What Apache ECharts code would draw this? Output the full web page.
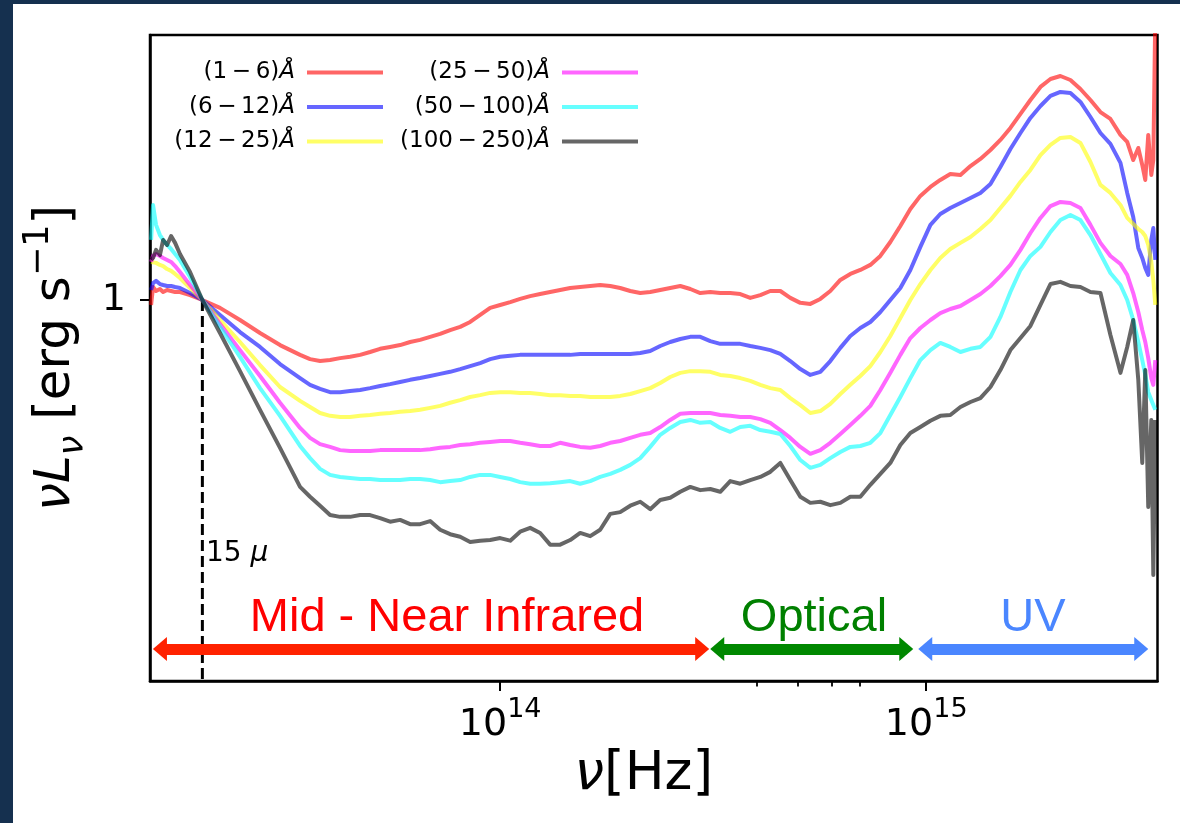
<!DOCTYPE html>
<html><head><meta charset="utf-8">
<script src="https://cdn.jsdelivr.net/npm/echarts@6.0.0/dist/echarts.min.js"></script>
<style>
html,body{margin:0;padding:0;background:#15304f;width:1180px;height:823px;overflow:hidden;}
#chart{position:absolute;left:13px;top:4px;width:1167px;height:819px;background:#fff;}
</style></head><body><div id="chart"></div>
<script>
// frequency grid [Hz]
const freq = [1.516e13,1.532e13,1.557e13,1.590e13,1.618e13,1.653e13,1.689e13,1.726e13,1.772e13,1.871e13,
2.0e13,2.200e13,2.451e13,2.731e13,3.043e13,
3.391e13,3.579e13,3.778e13,3.988e13,4.210e13,4.444e13,4.691e13,4.951e13,5.226e13,5.517e13,
5.823e13,6.147e13,6.488e13,6.849e13,7.229e13,7.631e13,8.055e13,8.503e13,8.975e13,9.474e13,
1.000e14,1.056e14,1.114e14,1.176e14,1.241e14,1.310e14,1.383e14,1.460e14,1.541e14,1.627e14,
1.717e14,1.813e14,1.913e14,2.020e14,2.132e14,2.250e14,2.375e14,2.507e14,2.647e14,2.794e14,
2.949e14,3.113e14,3.285e14,3.468e14,3.661e14,3.864e14,4.079e14,4.305e14,4.545e14,4.797e14,
5.064e14,5.345e14,5.642e14,5.955e14,6.286e14,6.635e14,7.004e14,7.393e14,7.804e14,8.237e14,
8.695e14,9.178e14,9.688e14,1.023e15,1.079e15,1.139e15,1.203e15,1.270e15,1.340e15,1.415e15,
1.493e15,1.576e15,1.664e15,1.756e15,1.854e15,1.957e15,2.065e15,2.180e15,2.301e15,2.429e15,
2.564e15,2.706e15,2.857e15,
2.963e15,3.061e15,3.146e15,3.214e15,3.267e15,3.320e15,3.375e15,3.412e15,3.449e15];

const lum_1_6 = [0.981,1.051,1.035,1.043,1.031,1.039,1.035,1.031,1.031,1.019,
1,0.970,0.926,0.881,0.841,
0.810,0.797,0.791,0.794,0.800,0.804,0.810,0.819,0.829,0.835,0.841,0.851,0.858,0.868,0.878,0.891,0.902,0.919,0.944,0.970,
0.981,0.992,1.004,1.015,1.023,1.031,1.039,1.047,1.051,1.055,
1.059,1.055,1.047,1.035,1.027,1.031,1.039,1.047,1.055,1.043,
1.027,1.031,1.027,1.027,1.023,1.008,1.019,1.035,1.035,1.008,
0.989,0.985,1.004,1.035,1.080,1.105,1.122,1.144,1.184,1.249,
1.328,1.418,1.491,1.543,1.585,1.622,1.616,1.672,1.718,1.778,
1.848,1.935,2.042,2.154,2.265,2.335,2.362,2.326,2.247,2.154,
2.057,2.003,1.884,
1.834,1.711,1.792,1.679,1.585,1.884,1.616,1.711,3.0];

const lum_6_12 = [1.039,1.067,1.076,1.063,1.059,1.055,1.055,1.051,1.047,1.027,
1,0.944,0.884,0.835,0.782,
0.741,0.722,0.711,0.702,0.702,0.705,0.708,0.713,0.719,0.724,0.730,0.736,0.741,0.747,0.753,0.759,0.767,0.776,0.785,0.797,
0.804,0.807,0.810,0.810,0.810,0.810,0.810,0.810,0.813,0.813,
0.813,0.813,0.813,0.813,0.816,0.822,0.838,0.851,0.861,0.868,
0.868,0.854,0.845,0.845,0.845,0.838,0.832,0.825,0.813,0.791,
0.767,0.750,0.759,0.791,0.832,0.871,0.898,0.919,0.955,1.000,
1.047,1.122,1.226,1.334,1.391,1.423,1.451,1.479,1.508,1.561,
1.666,1.785,1.898,2.011,2.105,2.188,2.222,2.213,2.138,2.018,
1.898,1.820,1.692,
1.508,1.375,1.221,1.175,1.131,1.101,1.259,1.318,1.166];

const lum_12_25 = [1.157,1.161,1.153,1.144,1.139,1.126,1.118,1.105,1.088,1.047,
1,0.926,0.851,0.779,0.716,
0.679,0.663,0.648,0.641,0.638,0.638,0.641,0.643,0.646,0.648,0.651,0.653,0.656,0.661,0.666,0.674,0.681,0.689,0.694,0.700,
0.702,0.702,0.700,0.700,0.697,0.694,0.694,0.692,0.692,0.689,
0.689,0.689,0.692,0.697,0.705,0.713,0.727,0.744,0.756,0.761,
0.761,0.759,0.750,0.747,0.741,0.733,0.722,0.713,0.708,0.686,
0.668,0.648,0.653,0.671,0.697,0.722,0.747,0.776,0.819,0.871,
0.933,1.000,1.063,1.122,1.175,1.216,1.245,1.273,1.313,1.359,
1.423,1.491,1.573,1.647,1.744,1.813,1.862,1.869,1.827,1.698,
1.555,1.508,1.440,
1.370,1.339,1.313,1.298,1.278,1.235,1.157,1.080,0.981];

const lum_25_50 = [1.157,1.184,1.193,1.184,1.175,1.166,1.157,1.139,1.113,1.059,
1,0.912,0.825,0.747,0.674,
0.612,0.589,0.575,0.569,0.562,0.560,0.560,0.560,0.562,0.562,0.562,0.562,0.562,0.564,0.567,0.569,0.573,0.575,0.578,0.580,
0.582,0.582,0.578,0.575,0.571,0.571,0.578,0.573,0.569,0.567,
0.571,0.578,0.582,0.589,0.596,0.600,0.614,0.631,0.646,0.648,
0.648,0.648,0.643,0.641,0.638,0.638,0.633,0.624,0.607,0.589,
0.569,0.554,0.562,0.578,0.598,0.619,0.641,0.666,0.708,0.756,
0.810,0.864,0.898,0.926,0.951,0.966,0.977,1.000,1.023,1.055,
1.096,1.144,1.212,1.293,1.370,1.434,1.457,1.451,1.423,1.334,
1.245,1.184,1.148,
1.101,1.027,0.955,0.891,0.851,0.800,0.741,0.722,0.794];

const lum_50_100 = [1.259,1.440,1.334,1.283,1.259,1.235,1.216,1.193,1.166,1.092,
1,0.902,0.804,0.713,0.641,
0.571,0.545,0.523,0.511,0.507,0.505,0.503,0.503,0.501,0.501,0.501,0.503,0.503,0.501,0.497,0.499,0.501,0.507,0.511,0.511,
0.507,0.503,0.497,0.494,0.494,0.495,0.497,0.499,0.494,0.499,
0.507,0.513,0.521,0.531,0.545,0.569,0.596,0.612,0.626,0.631,
0.624,0.626,0.612,0.603,0.614,0.617,0.607,0.603,0.598,0.571,
0.541,0.525,0.531,0.545,0.558,0.569,0.571,0.578,0.600,0.643,
0.689,0.741,0.794,0.825,0.848,0.835,0.819,0.829,0.835,0.868,
0.937,1.031,1.122,1.184,1.226,1.298,1.359,1.386,1.359,1.283,
1.193,1.109,1.059,
1.000,0.926,0.851,0.794,0.750,0.702,0.681,0.668,0.656];

const lum_100_250 = [1.166,1.175,1.212,1.188,1.259,1.235,1.278,1.245,1.193,1.113,
1,0.881,0.761,0.656,0.567,
0.488,0.470,0.454,0.438,0.435,0.435,0.438,0.438,0.433,0.427,0.430,0.423,0.423,0.428,0.414,0.407,0.403,0.395,0.397,0.398,
0.401,0.397,0.411,0.417,0.409,0.391,0.391,0.398,0.409,0.404,
0.414,0.440,0.443,0.454,0.461,0.448,0.464,0.468,0.479,0.488,
0.482,0.484,0.479,0.499,0.494,0.501,0.507,0.517,0.535,0.501,
0.470,0.459,0.461,0.455,0.459,0.470,0.470,0.492,0.513,0.535,
0.573,0.600,0.614,0.629,0.641,0.643,0.663,0.676,0.686,0.716,
0.764,0.825,0.864,0.905,0.981,1.063,1.072,1.055,1.051,1.031,
1.027,0.874,0.756,
0.835,0.926,0.736,0.535,0.764,0.452,0.631,0.348,0.631];

const seriesNames = ['(1\u2009\u2212\u20096)Å','(6\u2009\u2212\u200912)Å','(12\u2009\u2212\u200925)Å',
                     '(25\u2009\u2212\u200950)Å','(50\u2009\u2212\u2009100)Å','(100\u2009\u2212\u2009250)Å'];
const seriesValues = [lum_1_6, lum_6_12, lum_12_25, lum_25_50, lum_50_100, lum_100_250];
const seriesColors = ['rgba(255,0,0,0.6)','rgba(0,0,255,0.6)','rgba(255,255,0,0.6)',
                      'rgba(255,0,255,0.6)','rgba(0,255,255,0.6)','rgba(0,0,0,0.6)'];

// axis ticks
const xMajorTicks = [1e14, 1e15];
const xMinorTicks = [4e14, 5e14, 6e14, 7e14];
const yTicks = [1];
const xMin = 1.507e13, xMax = 3.49e15, yMin = 0.2317, yMax = 2.7645;

// annotations
const nu15micron = 2.0e13;
const markerLineY = [1, yMin];
const bandArrowY = 0.262;
const bands = [
  {name:'Mid - Near Infrared', from:1.590e13, to:2.980e14, color:'#ff2200', text:'#ff0000'},
  {name:'Optical', from:3.232e14, to:8.977e14, color:'#008800', text:'#008000'},
  {name:'UV', from:9.947e14, to:3.197e15, color:'#4a86ff', text:'#4a86ff'}
];

const chart = echarts.init(document.getElementById('chart'), null, {renderer:'canvas'});
const FONT = 'DejaVu Sans';

const series = seriesNames.map((n, i) => ({
  name: n, type: 'line', color: seriesColors[i],
  data: freq.map((f, j) => [f, seriesValues[i][j]]),
  showSymbol: false, symbol: 'none',
  lineStyle: {width: 4, color: seriesColors[i], join: 'round', cap: 'butt'},
  itemStyle: {color: seriesColors[i]},
  emphasis: {disabled: true}, z: 3 + i, silent: true
}));

// 15 micron dashed marker
series.push({
  type: 'line', z: 2, silent: true, showSymbol: false, symbol: 'none',
  data: markerLineY.map(y => [nu15micron, y]),
  lineStyle: {color: '#000', width: 3, type: [11, 5], cap: 'butt'},
  emphasis: {disabled: true}
});
series.push({
  type: 'line', data: [], z: 10, silent: true,
  markLine: {
    silent: true, symbol: ['triangle','triangle'], symbolSize: [24, 14],
    label: {show: false}, animation: false, emphasis: {disabled: true},
    lineStyle: {width: 11, type: 'solid'},
    data: bands.map(b => [{coord: [b.from, bandArrowY], lineStyle: {color: b.color, width: 11, type: 'solid'}, itemStyle: {color: b.color}},
                          {coord: [b.to, bandArrowY]}])
  }
});

const legendCommon = {
  orient: 'vertical', align: 'right', top: 57, padding: 0, itemGap: 11.5,
  itemWidth: 76, itemHeight: 4, icon: 'rect', selectedMode: false,
  formatter: n => n.replace('Å', '{i|Å}'),
  textStyle: {fontFamily: FONT, fontSize: 23, lineHeight: 23, color: '#000', padding: [0, 7, 0, 0],
    rich: {i: {fontFamily: FONT, fontStyle: 'italic', fontSize: 23, lineHeight: 23, color: '#000'}}}
};

const option = {
  animation: false,
  backgroundColor: '#ffffff',
  grid: {left: 137, top: 31, right: 22.5, bottom: 142, show: true, borderColor: '#000', borderWidth: 2.5,
         backgroundColor: 'transparent', outerBoundsMode: 'none', containLabel: false},
  legend: [
    Object.assign({}, legendCommon, {data: seriesNames.slice(0, 3), right: 797}),
    Object.assign({}, legendCommon, {data: seriesNames.slice(3), right: 542})
  ],
  xAxis: [{
    type: 'log', logBase: 10, min: xMin, max: xMax, position: 'bottom',
    axisLine: {show: true, lineStyle: {color: '#000', width: 2.5}},
    axisTick: {show: true, customValues: xMajorTicks, length: 10, lineStyle: {color: '#000', width: 2}},
    minorTick: {show: false}, splitLine: {show: false},
    axisLabel: {customValues: xMajorTicks, margin: 15, color: '#000',
      formatter: v => '{b|10}{s|' + Math.round(Math.log10(v)) + '}',
      rich: {b: {fontFamily: FONT, fontSize: 38, lineHeight: 58, color: '#000'},
             s: {fontFamily: FONT, fontSize: 27, lineHeight: 27, verticalAlign: 'top', color: '#000'}}},
    name: '{i|ν}[Hz]', nameLocation: 'middle', nameGap: 63,
    nameTextStyle: {fontFamily: FONT, fontSize: 53, color: '#000', padding: [0, 20, 0, 0],
      rich: {i: {fontFamily: FONT, fontStyle: 'italic', fontSize: 53, color: '#000'}}}
  }, {
    type: 'log', logBase: 10, min: xMin, max: xMax, position: 'bottom',
    axisLine: {show: false},
    axisTick: {show: true, customValues: xMinorTicks, length: 5.5, lineStyle: {color: '#000', width: 1.8}},
    axisLabel: {show: false}, splitLine: {show: false}
  }],
  yAxis: {
    type: 'log', logBase: 10, min: yMin, max: yMax,
    axisLine: {show: true, lineStyle: {color: '#000', width: 2.5}},
    axisTick: {show: true, customValues: yTicks, length: 10, lineStyle: {color: '#000', width: 2}},
    minorTick: {show: false}, splitLine: {show: false},
    axisLabel: {customValues: yTicks, margin: 24, fontFamily: FONT, fontSize: 38, color: '#000',
      formatter: v => String(Math.round(v))},
    name: '{i|ν}{i|L}{sub|ν} [erg s{sup|\u22121}]', nameLocation: 'middle', nameGap: 57,
    nameTextStyle: {fontFamily: FONT, fontSize: 50, lineHeight: 70, color: '#000',
      rich: {
        i: {fontFamily: FONT, fontStyle: 'italic', fontSize: 50, lineHeight: 70, color: '#000'},
        sub: {fontFamily: FONT, fontStyle: 'italic', fontSize: 35, verticalAlign: 'bottom', color: '#000'},
        sup: {fontFamily: FONT, fontSize: 35, verticalAlign: 'top', color: '#000'}
      }}
  },
  graphic: [
    {type: 'text', x: 434, y: 614, silent: true, z: 20,
     style: {text: bands[0].name, fill: bands[0].text, font: '47px "Liberation Sans"', align: 'center', verticalAlign: 'middle', textAlign: 'center', textVerticalAlign: 'middle'}},
    {type: 'text', x: 801, y: 614, silent: true, z: 20,
     style: {text: bands[1].name, fill: bands[1].text, font: '47px "Liberation Sans"', align: 'center', verticalAlign: 'middle', textAlign: 'center', textVerticalAlign: 'middle'}},
    {type: 'text', x: 1020, y: 614, silent: true, z: 20,
     style: {text: bands[2].name, fill: bands[2].text, font: '47px "Liberation Sans"', align: 'center', verticalAlign: 'middle', textAlign: 'center', textVerticalAlign: 'middle'}},
    {type: 'text', x: 193, y: 550, silent: true, z: 20,
     style: {text: '15 {i|μ}', fill: '#000', font: '28px "DejaVu Sans"', align: 'left', verticalAlign: 'middle', textAlign: 'left', textVerticalAlign: 'middle',
       rich: {i: {fontFamily: FONT, fontStyle: 'italic', fontSize: 28, fill: '#000', color: '#000'}}}}
  ],
  series: series
};
chart.setOption(option);
</script></body></html>
